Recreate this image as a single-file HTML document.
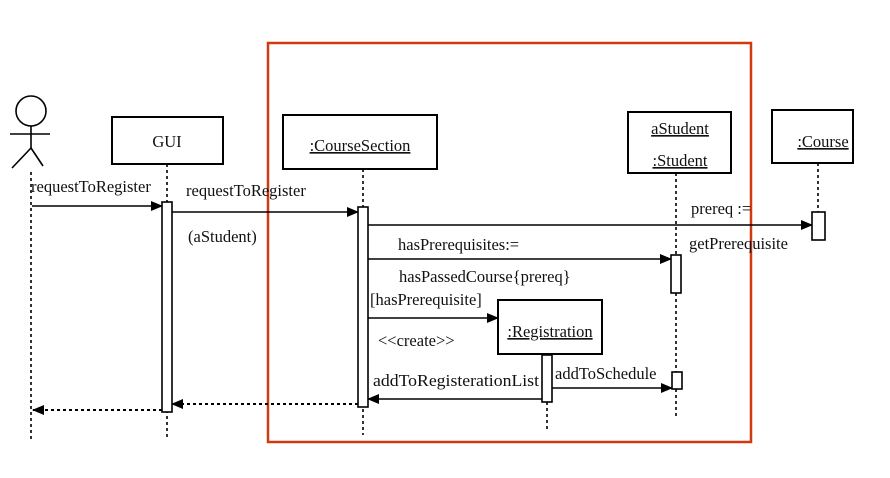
<!DOCTYPE html>
<html><head><meta charset="utf-8"><style>
body{margin:0;background:#fff;width:890px;height:473px;overflow:hidden}
text{font-family:"Liberation Serif","Noto Serif CJK SC",serif;font-size:16.5px;fill:#111}
</style></head><body>
<svg width="890" height="473" viewBox="0 0 890 473" xmlns="http://www.w3.org/2000/svg">
<defs><marker id="a" markerWidth="12" markerHeight="10" refX="11" refY="5" orient="auto" markerUnits="userSpaceOnUse"><path d="M0,0 L12,5 L0,10z" fill="#000"/></marker></defs>
<rect x="268" y="43" width="483" height="399" fill="none" stroke="#d03a10" stroke-width="2.5"/>
<g stroke="#000" stroke-width="1.6" fill="none">
<circle cx="31" cy="111" r="15"/>
<line x1="31" y1="126" x2="31" y2="148"/><line x1="10" y1="134" x2="50" y2="134"/>
<line x1="31" y1="148" x2="12" y2="168"/><line x1="31" y1="148" x2="43" y2="166"/>
</g>
<g stroke="#000" stroke-width="1.6" stroke-dasharray="3,3" fill="none">
<line x1="31" y1="172" x2="31" y2="440"/>
<line x1="167" y1="164" x2="167" y2="440"/>
<line x1="363" y1="169" x2="363" y2="435"/>
<line x1="676" y1="173" x2="676" y2="418"/>
<line x1="818" y1="163" x2="818" y2="212"/>
<line x1="547" y1="402" x2="547" y2="432"/>
</g>
<g stroke="#000" stroke-width="2" fill="#fff">
<rect x="112" y="117" width="111" height="47"/>
<rect x="283" y="115" width="154" height="54"/>
<rect x="628" y="112" width="103" height="61"/>
<rect x="772" y="110" width="81" height="53"/>
<rect x="498" y="300" width="104" height="54"/>
</g>
<g stroke="#000" stroke-width="1.6" fill="none" marker-end="url(#a)">
<line x1="32" y1="206" x2="162" y2="206"/>
<line x1="172" y1="212" x2="358" y2="212"/>
<line x1="368" y1="225" x2="812" y2="225"/>
<line x1="368" y1="259" x2="671" y2="259"/>
<line x1="368" y1="318" x2="498" y2="318"/>
<line x1="552" y1="388" x2="672" y2="388"/>
<line x1="542" y1="399" x2="368" y2="399"/>
</g>
<g stroke="#000" stroke-width="2" stroke-dasharray="3,3" fill="none" marker-end="url(#a)">
<line x1="358" y1="404" x2="172" y2="404"/>
<line x1="162" y1="410" x2="33" y2="410"/>
</g>
<g stroke="#000" stroke-width="1.6" fill="#fff">
<rect x="162" y="202" width="10" height="210"/>
<rect x="358" y="207" width="10" height="200"/>
<rect x="671" y="255" width="10" height="38"/>
<rect x="672" y="372" width="10" height="17"/>
<rect x="812" y="212" width="13" height="28"/>
<rect x="542" y="355" width="10" height="47"/>
</g>
<g text-anchor="middle">
<text x="167" y="147">GUI</text>
<text x="360" y="151" text-decoration="underline">:CourseSection</text>
<text x="680" y="134" text-decoration="underline">aStudent</text>
<text x="680" y="166" text-decoration="underline">:Student</text>
<text x="823" y="147" text-decoration="underline">:Course</text>
<text x="550" y="337" text-decoration="underline">:Registration</text>
</g>
<text x="31" y="192">requestToRegister</text>
<text x="186" y="196">requestToRegister</text>
<text x="188" y="242">(aStudent)</text>
<text x="691" y="214">prereq :=</text>
<text x="689" y="249">getPrerequisite</text>
<text x="398" y="250">hasPrerequisites:=</text>
<text x="399" y="282">hasPassedCourse{prereq}</text>
<text x="370" y="305">[hasPrerequisite]</text>
<text x="378" y="346">&lt;&lt;create&gt;&gt;</text>
<text x="555" y="379">addToSchedule</text>
<text x="373" y="386" textLength="166" lengthAdjust="spacingAndGlyphs">addToRegisterationList</text>
</svg>
</body></html>
